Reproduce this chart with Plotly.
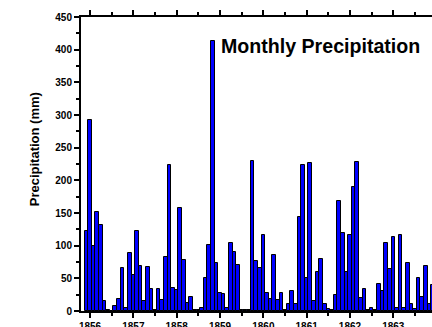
import plotly.graph_objects as go

# Monthly precipitation (mm), starting December 1855
start_year = 1855
start_month = 12
precip = [
    122, 292, 100, 152, 132, 16, 1, 0.5, 8, 19, 66, 4,
    89, 55, 123, 69, 16, 67, 34, 1, 33, 17, 82, 224,
    35, 32, 157, 78, 13, 22, 2, 1, 4, 51, 101, 414,
    73, 28, 26, 5, 104, 91, 70, 1, 1, 2, 229, 76,
    66, 117, 27, 18, 86, 17, 27, 2, 10, 31, 11, 144,
    223, 51, 227, 15, 59, 79, 10, 3, 1, 24, 168, 119,
    59, 116, 190, 228, 20, 34, 2, 5, 1, 41, 31, 104,
    64, 113, 4, 117, 5, 73, 10, 3, 50, 22, 69, 10,
    40,
]
year_ticks = [1856, 1857, 1858, 1859, 1860, 1861, 1862, 1863, 1864]
y_ticks = [0, 50, 100, 150, 200, 250, 300, 350, 400, 450]

x = []
for i in range(len(precip)):
    m = start_month - 1 + i
    x.append(start_year + m // 12 + (m % 12) / 12.0)

fig = go.Figure()
fig.add_trace(go.Bar(
    x=x, y=precip, width=1 / 12,
    marker=dict(color="#0000FF", line=dict(color="black", width=1)),
    hoverinfo="skip",
))

font = "Liberation Sans, Arial, sans-serif"
fig.update_layout(
    width=432, height=327,
    margin=dict(l=81, r=0, t=17, b=16, autoexpand=False),
    paper_bgcolor="white", plot_bgcolor="white",
    showlegend=False, bargap=0,
    font=dict(family=font, color="black"),
)
fig.update_xaxes(
    range=[1855.792, 1863.893], automargin=False,
    tickvals=year_ticks, ticktext=[str(v) for v in year_ticks],
    showgrid=False, zeroline=False,
    showline=True, linecolor="black", linewidth=2, mirror="ticks",
    ticks="outside", ticklen=5, tickwidth=2, tickcolor="black",
    tickfont=dict(size=10, family=font, weight="bold"),
    minor=dict(dtick=0.5, tick0=1856, ticks="outside", ticklen=3, tickwidth=1.5, tickcolor="black"),
)
fig.update_yaxes(
    range=[0, 450], automargin=False,
    tickvals=y_ticks,
    showgrid=False, zeroline=False,
    showline=True, linecolor="black", linewidth=2, mirror=False,
    ticks="outside", ticklen=5, tickwidth=2, tickcolor="black",
    tickfont=dict(size=10, family=font, weight="bold"),
    minor=dict(dtick=25, tick0=0, ticks="outside", ticklen=3, tickwidth=1.5, tickcolor="black"),
)
fig.add_annotation(
    text="Precipitation (mm)", textangle=-90,
    xref="paper", yref="paper", x=-0.134, y=0.55,
    xanchor="center", yanchor="middle", showarrow=False,
    font=dict(size=13, family=font, weight="bold", color="black"),
)
fig.add_annotation(
    text="Monthly Precipitation",
    xref="paper", yref="paper", x=0.393, y=0.90,
    xanchor="left", yanchor="middle", showarrow=False,
    font=dict(size=19.6, family=font, weight="bold", color="black"),
)
fig.write_html(
    "out.html",
    config={"displayModeBar": False},
    post_script="document.body.style.margin='0';document.body.style.overflow='hidden';",
)
